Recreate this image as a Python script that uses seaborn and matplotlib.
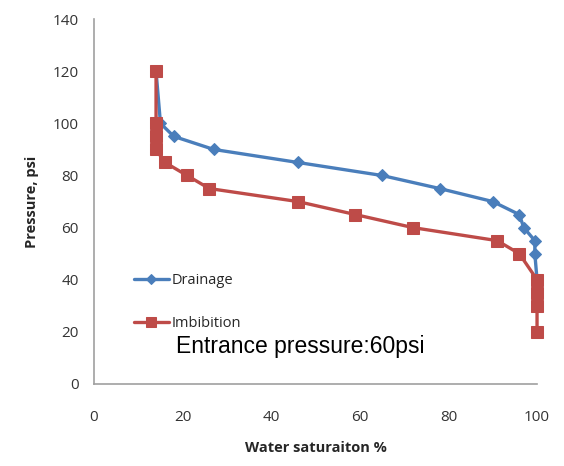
import matplotlib
matplotlib.use("Agg")
import matplotlib.pyplot as plt
import seaborn as sns
import pandas as pd

# Veriler
drainage_sw = [14, 15, 18, 27, 46, 65, 78, 90, 96, 97, 99.5, 99.5, 100]
drainage_p = [120, 100, 95, 90, 85, 80, 75, 70, 65, 60, 55, 50, 40]
imbibition_sw = [14, 14, 14, 14, 16, 21, 26, 46, 59, 72, 91, 96, 100, 100, 100, 100]
imbibition_p = [120, 100, 95, 90, 85, 80, 75, 70, 65, 60, 55, 50, 40, 35, 30, 20]

x_ticks = [0, 20, 40, 60, 80, 100]
y_ticks = [0, 20, 40, 60, 80, 100, 120, 140]

drain = pd.DataFrame({"sw": drainage_sw, "p": drainage_p})
imb = pd.DataFrame({"sw": imbibition_sw, "p": imbibition_p})

sns.set_style("white")
plt.rcParams["font.family"] = ["Open Sans", "DejaVu Sans"]

fig = plt.figure(figsize=(5.64, 4.66), dpi=100)
ax = fig.add_axes([0.1667, 0.176, 0.7855, 0.783])

blue = "#4A7EBB"
red = "#BE4B48"
sns.lineplot(data=drain, x="sw", y="p", sort=False, estimator=None, ax=ax,
             color=blue, lw=2.4, marker="D", markersize=6.5, markeredgecolor=blue,
             label="Drainage", clip_on=False)
sns.lineplot(data=imb, x="sw", y="p", sort=False, estimator=None, ax=ax,
             color=red, lw=2.4, marker="s", markersize=8.5, markeredgecolor=red,
             label="Imbibition", clip_on=False)

ax.set_xlim(0, 100)
ax.set_ylim(0, 140)
ax.set_xticks(x_ticks)
ax.set_yticks(y_ticks)
ax.tick_params(axis="both", labelsize=11, colors="#404040", length=5, direction="out",
               labelcolor="#333333")
ax.tick_params(axis="x", pad=14)
ax.tick_params(axis="y", pad=6)
for s in ["top", "right"]:
    ax.spines[s].set_visible(False)
for s in ["left", "bottom"]:
    ax.spines[s].set_color("#A0A0A0")
    ax.spines[s].set_linewidth(1.2)

ax.set_xlabel("Water saturaiton %", fontsize=10.5, fontweight="bold", labelpad=11)
ax.set_ylabel("Pressure, psi", fontsize=10.5, fontweight="bold", labelpad=10)

leg = ax.legend(loc="lower left", bbox_to_anchor=(0.06, 0.11), frameon=False,
                fontsize=10.5, labelspacing=1.9, handlelength=2.4, handletextpad=0.2,
                markerscale=0.8)

ax.text(0.185, 0.085, "Entrance pressure:60psi", transform=ax.transAxes,
        fontsize=16.5, family=["Liberation Sans", "DejaVu Sans"], color="black")

fig.savefig("out.png", dpi=100)
